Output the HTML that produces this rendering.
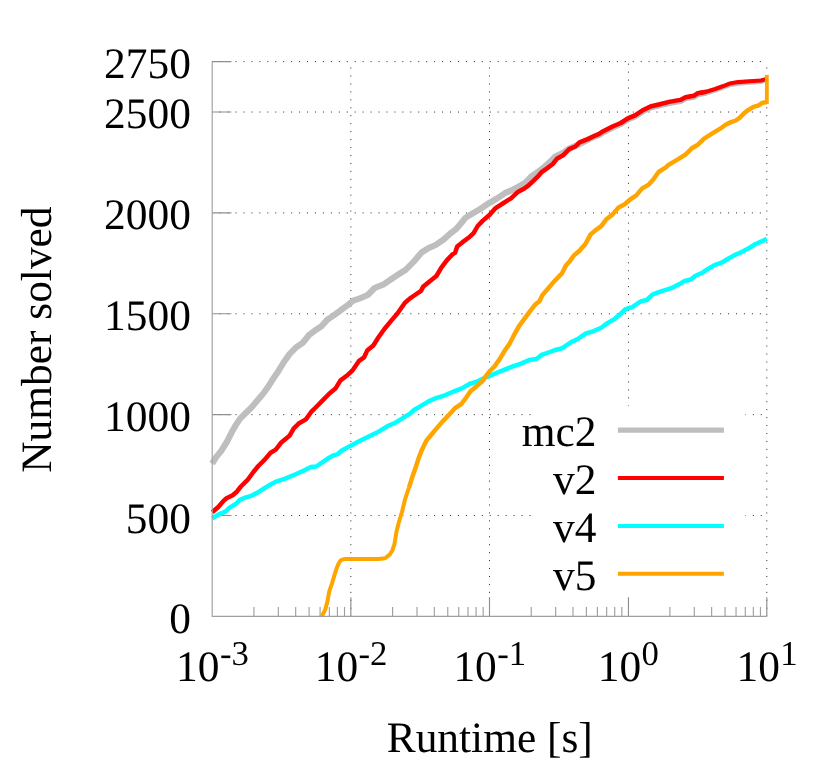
<!DOCTYPE html>
<html><head><meta charset="utf-8"><title>Runtime plot</title>
<style>html,body{margin:0;padding:0;background:#fff;}body{width:830px;height:780px;position:relative;overflow:hidden;font-family:"Liberation Serif",serif;}</style>
</head><body>
<svg width="830" height="780" viewBox="0 0 830 780" style="position:absolute;left:0;top:0;will-change:transform" text-rendering="geometricPrecision">
<rect width="830" height="780" fill="#fff"/>
<path d="M212.20 515.53H531.60M745.40 515.53H767.20M212.20 414.65H531.60M745.40 414.65H767.20M212.20 313.78H766.80M212.20 212.91H766.80M212.20 112.04H766.80M212.20 61.60H766.80M350.85 616.20V61.60M489.50 616.20V61.60M628.45 405.80V61.60M766.80 616.20V61.60" fill="none" stroke="#2a2a2a" stroke-width="1" stroke-dasharray="1 6.944" stroke-dashoffset="0.5"/>
<path d="M253.94 616.40v-9.3M278.35 616.40v-9.3M295.68 616.40v-9.3M309.11 616.40v-9.3M320.09 616.40v-9.3M329.37 616.40v-9.3M337.41 616.40v-9.3M344.51 616.40v-9.3M392.59 616.40v-9.3M417.00 616.40v-9.3M434.33 616.40v-9.3M447.76 616.40v-9.3M458.74 616.40v-9.3M468.02 616.40v-9.3M476.06 616.40v-9.3M483.16 616.40v-9.3M531.24 616.40v-9.3M555.65 616.40v-9.3M572.98 616.40v-9.3M586.41 616.40v-9.3M597.39 616.40v-9.3M606.67 616.40v-9.3M614.71 616.40v-9.3M621.81 616.40v-9.3M669.89 616.40v-9.3M694.30 616.40v-9.3M711.63 616.40v-9.3M725.06 616.40v-9.3M736.04 616.40v-9.3M745.32 616.40v-9.3M753.36 616.40v-9.3M760.46 616.40v-9.3" fill="none" stroke="#a0a0a0" stroke-width="1.15"/>
<path d="M212.20 515.53h19.2M212.20 414.65h19.2M212.20 313.78h19.2M212.20 212.91h19.2M212.20 112.04h19.2M212.20 61.60h19.2M350.85 616.40v-19.2M489.50 616.40v-19.2M628.45 616.40v-19.2M766.80 616.40v-19.2" fill="none" stroke="#8e8e8e" stroke-width="1.15"/>
<path d="M212.2 463.6 L216.3 456.9 L221.4 450.7 L227.1 441.5 L231.7 432.3 L235.8 425.1 L239.9 418.9 L246.0 412.8 L251.2 407.7 L257.3 400.5 L263.5 393.3 L268.6 386.1 L273.7 377.9 L278.5 370.9 L283.6 362.5 L289.5 354.1 L295.6 347.8 L302.8 342.7 L309.0 335.0 L315.1 330.4 L321.3 326.3 L327.4 319.6 L333.6 315.5 L340.4 310.4 L346.2 306.3 L353.3 300.6 L360.5 298.1 L367.7 295.0 L374.9 287.8 L383.1 284.7 L391.3 279.1 L397.4 275.0 L405.6 269.9 L413.5 261.9 L421.3 252.7 L428.5 248.1 L435.6 245.0 L443.8 239.4 L450.0 233.7 L456.2 229.1 L461.3 223.0 L465.4 217.8 L471.0 214.4 L480.0 209.1 L489.7 202.7 L496.7 198.8 L504.9 193.2 L513.1 189.6 L519.5 186.2 L525.8 182.4 L531.4 176.3 L538.1 171.9 L545.0 166.4 L550.0 161.9 L554.9 156.8 L563.1 152.7 L569.2 148.6 L577.4 145.0 L585.6 140.9 L593.8 136.8 L599.2 134.9 L603.3 132.2 L612.6 127.5 L620.8 124.0 L627.9 119.3 L635.1 116.3 L642.3 111.6 L650.5 107.5 L659.8 105.3 L669.2 102.9 L680.5 100.9 L685.6 98.3 L693.8 96.8 L697.9 94.2 L706.2 92.7" fill="none" stroke="#bebebe" stroke-width="6.2" stroke-linejoin="round"/>
<path d="M697.9 94.2 L706.2 92.7 L715.2 90.0 L722.7 87.3 L729.6 84.6 L738.1 83.1 L749.6 82.1 L761.2 81.2 L765.0 80.2 L766.8 79.7" fill="none" stroke="#bebebe" stroke-width="5.4" stroke-linejoin="round"/>
<path d="M212.2 512.2 L218.3 507.0 L223.5 500.9 L226.5 498.3 L232.7 495.2 L236.8 491.7 L240.9 486.5 L248.1 479.3 L253.2 472.2 L258.3 466.0 L264.5 459.9 L270.6 452.7 L275.8 449.6 L281.3 442.4 L289.5 435.8 L293.6 428.6 L298.7 423.5 L305.9 419.4 L311.0 412.2 L317.2 406.0 L322.2 400.9 L329.2 393.7 L335.4 388.6 L340.5 380.4 L346.7 375.8 L352.8 370.1 L359.0 360.9 L364.1 357.3 L367.2 350.6 L373.3 345.5 L378.5 337.3 L384.4 329.0 L391.3 320.6 L397.4 313.5 L404.6 303.2 L409.7 298.6 L414.9 295.0 L421.0 290.9 L423.1 286.8 L429.2 281.7 L436.4 276.0 L441.5 267.3 L446.8 260.4 L452.1 254.7 L455.1 252.7 L457.2 246.5 L462.3 242.4 L468.5 237.8 L473.6 233.2 L477.7 226.0 L482.6 220.9 L489.7 214.7 L495.6 208.1 L502.8 203.5 L511.0 198.3 L518.2 191.7 L524.4 188.4 L528.0 185.9 L532.3 181.9 L538.5 175.8 L541.6 172.2 L546.7 168.6 L552.8 164.0 L556.9 158.8 L563.1 155.3 L569.2 149.1 L575.4 146.5 L579.5 142.4 L587.7 139.1 L593.8 136.3 L599.2 133.9 L603.3 131.2 L612.6 126.5 L620.8 123.0 L627.9 118.3 L635.1 115.3 L642.3 110.6 L650.5 106.5 L659.8 104.3 L669.2 101.9 L680.5 99.9 L685.6 97.3 L693.8 95.8 L697.9 93.2 L706.2 91.7" fill="none" stroke="#ff0000" stroke-width="4.5" stroke-linejoin="round"/>
<path d="M697.9 93.2 L706.2 91.7 L715.2 89.0 L722.7 86.3 L729.6 83.6 L738.1 82.1 L749.6 81.3 L761.2 80.5 L765.0 79.4 L766.8 78.9" fill="none" stroke="#ff0000" stroke-width="4.1" stroke-linejoin="round"/>
<path d="M212.2 518.3 L218.3 514.7 L225.5 511.7 L229.6 507.6 L235.8 504.0 L239.9 499.9 L246.0 497.3 L251.2 495.8 L258.3 492.2 L264.5 488.1 L270.6 484.5 L275.9 481.7 L285.2 478.6 L295.6 474.2 L303.8 470.6 L311.0 467.1 L316.2 466.5 L322.3 462.4 L327.4 458.8 L333.6 455.3 L337.7 454.2 L341.5 450.8 L350.2 445.9 L360.5 440.6 L370.8 435.5 L379.0 431.4 L387.2 426.3 L395.4 422.7 L403.6 417.6 L410.4 413.4 L414.0 410.0 L420.6 406.1 L428.5 401.4 L436.7 397.8 L444.9 395.3 L453.1 391.7 L461.3 388.6 L469.5 384.0 L477.7 381.4 L482.0 379.0 L490.2 375.7 L500.5 371.3 L510.8 367.2 L521.0 363.6 L529.2 360.0 L536.4 359.0 L541.5 354.9 L549.8 352.0 L556.2 349.7 L562.3 348.2 L570.5 342.6 L578.7 338.4 L585.9 333.3 L593.1 331.3 L601.3 327.7 L607.4 323.1 L614.6 319.0 L621.0 313.5 L625.5 309.2 L632.3 307.2 L640.5 301.5 L646.7 300.0 L652.8 294.3 L661.0 291.3 L671.3 288.2 L679.5 284.1 L684.6 281.0 L690.8 279.5 L695.5 275.7 L702.2 272.8 L708.3 268.7 L714.5 265.1 L721.7 262.6 L726.8 259.5 L734.0 255.4 L741.2 252.3 L748.3 248.6 L755.5 244.0 L760.6 241.9 L766.8 238.9" fill="none" stroke="#00ffff" stroke-width="4.5" stroke-linejoin="round"/>
<path d="M408.9 487.9 L411.8 478.6 L415.4 468.3 L419.0 457.1 L422.1 449.4 L426.2 440.9 L431.3 434.7 L436.4 428.6 L442.6 421.4 L445.5 418.6 L450.0 413.7 L455.1 408.1 L461.3 404.0 L466.4 397.3 L470.5 391.2 L475.6 387.1 L481.8 381.9 L484.5 377.9 L489.4 371.5 L494.4 366.5 L499.5 359.4 L504.6 350.8 L509.7 343.6 L513.8 335.4 L519.0 326.1 L525.1 317.9 L530.3 310.8 L535.2 304.6 L539.5 301.2 L542.3 295.2 L548.5 288.1 L554.6 280.9 L561.8 273.7 L565.9 265.5 L570.0 260.9 L574.1 255.2 L579.2 251.1 L585.4 244.0 L590.5 234.7 L595.3 230.3 L601.5 225.9 L606.3 219.2 L612.4 214.6 L618.6 207.4 L624.7 204.3 L629.9 199.7 L636.0 195.6 L642.2 188.4 L648.3 184.9 L653.5 179.2 L658.6 172.0 L665.8 167.4 L668.2 165.2 L677.4 159.6 L685.6 154.5 L691.8 148.3 L697.9 144.7 L704.1 138.6 L712.3 133.4 L721.5 127.8 L725.6 124.7 L730.4 122.4 L735.8 120.5 L739.6 117.8 L744.2 113.2 L748.1 110.1 L753.5 106.8 L758.8 105.3 L761.2 103.4 L764.2 102.4 L766.8 102.2" fill="none" stroke="#ffa500" stroke-width="4.5" stroke-linejoin="round"/>
<path d="M321.8 616.4 L325.2 609.6 L327.4 601.6 L329.2 591.7 L331.9 583.6 L335.5 571.9 L337.2 566.9 L338.7 563.4 L339.8 561.5 L340.9 560.3 L342.5 559.5 L344.5 559.1 L358.9 558.9 L378.5 558.9 L385.1 558.2 L389.7 554.6 L392.3 550.5 L394.4 544.4 L396.4 532.1 L399.0 521.8 L402.1 511.5 L405.1 499.2 L408.9 487.9" fill="none" stroke="#ffa500" stroke-width="4" stroke-linejoin="round"/>
<path d="M766.85 103.9V74.9" fill="none" stroke="#ffa500" stroke-width="3.8"/>
<line x1="617.9" y1="430.1" x2="723.9" y2="430.1" stroke="#bebebe" stroke-width="5.33"/>
<line x1="617.9" y1="478.0" x2="723.9" y2="478.0" stroke="#ff0000" stroke-width="4"/>
<line x1="617.9" y1="525.9" x2="723.9" y2="525.9" stroke="#00ffff" stroke-width="4"/>
<line x1="617.9" y1="573.8" x2="723.9" y2="573.8" stroke="#ffa500" stroke-width="4"/>
<path d="M212.20 61.60 V616.40 H766.80" fill="none" stroke="#a0a0a0" stroke-width="1.15"/>
<g font-family="Liberation Serif, serif" font-size="43.4" fill="#000">
<text x="190.85" y="633.40" text-anchor="end">0</text>
<text x="190.85" y="532.73" text-anchor="end">500</text>
<text x="190.85" y="431.35" text-anchor="end">1000</text>
<text x="190.85" y="330.08" text-anchor="end">1500</text>
<text x="190.85" y="229.21" text-anchor="end">2000</text>
<text x="190.85" y="128.34" text-anchor="end">2500</text>
<text x="190.85" y="77.90" text-anchor="end">2750</text>
<text x="176.09" y="680.80">10</text>
<text x="219.89" y="664.90" font-size="34.72">-3</text>
<text x="314.74" y="680.80">10</text>
<text x="358.54" y="664.90" font-size="34.72">-2</text>
<text x="453.39" y="680.80">10</text>
<text x="497.19" y="664.90" font-size="34.72">-1</text>
<text x="597.82" y="680.80">10</text>
<text x="641.62" y="664.90" font-size="34.72">0</text>
<text x="736.47" y="680.80">10</text>
<text x="780.27" y="664.90" font-size="34.72">1</text>
<text x="489.76" y="752.45" text-anchor="middle">Runtime [s]</text>
<text x="596.40" y="446.40" text-anchor="end">mc2</text>
<text x="596.40" y="494.30" text-anchor="end">v2</text>
<text x="596.40" y="542.20" text-anchor="end">v4</text>
<text x="596.40" y="590.10" text-anchor="end">v5</text>
<text transform="translate(50.70 339.60) rotate(-90)" text-anchor="middle">Number solved</text>
</g>
</svg>
</body></html>
